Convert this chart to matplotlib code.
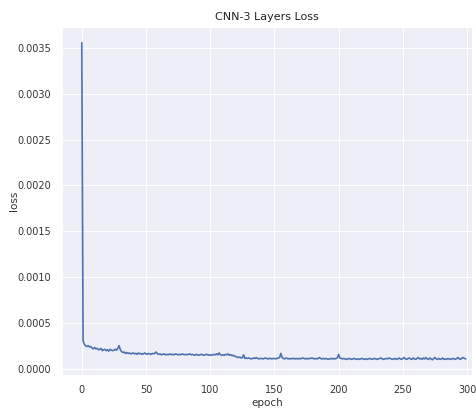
import matplotlib
matplotlib.use("Agg")
import matplotlib.pyplot as plt
import numpy as np
import seaborn as sns

# loss per epoch (units of 1e-5)
loss_e5 = [
    356, 30, 26.5, 25, 24, 25, 23.5, 24, 22.5, 21.5,
    23, 21.5, 22, 20.5, 21, 22, 19.5, 20.5, 21, 19.5,
    20.5, 19, 21, 20, 19.5, 20, 21, 20, 22, 25,
    20.5, 18.5, 17.5, 18, 16.5, 17.5, 16.5, 17, 16, 16.5,
    17, 16, 16.5, 15.5, 17, 16, 16.5, 15.5, 16, 17,
    16, 15.5, 16.5, 16, 15.5, 16.5, 16, 17, 18, 16,
    15.5, 16, 15, 15.5, 16, 15, 15.5, 15, 15.5, 16,
    15, 15.5, 15, 16, 15.5, 15, 15.5, 15, 16, 15.5,
    15, 15.5, 15, 15.5, 16, 15, 15.5, 15, 14.5, 15.5,
    15, 14.5, 15, 15.5, 15, 14.5, 15, 15.5, 15, 14.5,
    15, 14.5, 15, 15.5, 15, 16, 15, 17, 15, 14.5,
    15, 14.5, 15.5, 15, 16, 14.5, 15, 14, 14.5, 13.5,
    13, 12.5, 12, 12.5, 11.5, 12, 15, 11, 11.5, 11,
    11.5, 11, 10.5, 11, 11.5, 11, 12, 11, 10.5, 11,
    11, 10.5, 11, 11.5, 11, 10.5, 11, 11, 10.5, 11,
    11, 10.5, 11, 11.5, 12, 16.5, 12, 11, 10.5, 11.5,
    11, 10.5, 11, 10.5, 11, 11, 10.5, 11, 10.5, 11,
    10.5, 11, 11.5, 11, 10.5, 11, 10.5, 11, 11, 11.5,
    11, 10.5, 11, 10.5, 11, 12, 11, 10.5, 11, 10.5,
    11, 10.5, 10, 10.5, 11, 10.5, 11, 10.5, 11, 11.5,
    15.5, 11.5, 11, 10.5, 11, 10.5, 10, 10.5, 11, 10.5,
    10, 10.5, 11, 10.5, 10, 10.5, 10, 10.5, 11, 10.5,
    10, 10.5, 10, 10.5, 11, 10.5, 10, 10.5, 11, 10.5,
    10, 10.5, 11, 11.5, 10.5, 10, 10.5, 11, 10.5, 11.5,
    11, 10.5, 10, 10.5, 11, 10, 10.5, 11.5, 10.5, 10,
    11, 12, 10.5, 10, 11, 11.5, 10.5, 10, 11.5, 10.5,
    10, 11, 12, 10.5, 11, 10, 11.5, 10.5, 12, 10.5,
    10, 11.5, 10.5, 9.5, 11, 12, 10.5, 10, 11, 10,
    10.5, 11.5, 10, 10.5, 10, 11, 10.5, 10, 10.5, 11,
    10.5, 10, 11, 12, 10.5, 10, 11.5, 12, 11, 10.5,
]
loss = np.array(loss_e5) * 1e-5
epochs = np.arange(len(loss))


def plot():
    sns.set_style("darkgrid")
    plt.rcParams["font.family"] = ["DejaVu Sans"]

    fig = plt.figure(figsize=(4.76, 4.12), dpi=100)
    ax = fig.add_axes([0.130, 0.090, 0.862, 0.844])
    ax.set_facecolor("#EEEFF6")
    ax.plot(epochs, loss, color="#4C72B0", linewidth=1.2)

    ax.set_xlim(-15.5, 304)
    ax.set_ylim(-0.00007, 0.00373)
    ax.set_xticks([0, 50, 100, 150, 200, 250, 300])
    ax.set_yticks(np.arange(0, 0.0036, 0.0005))
    ax.yaxis.set_major_formatter(plt.FormatStrFormatter("%.4f"))
    ax.tick_params(labelsize=7, colors="#333333", pad=4)
    ax.grid(color="white", linewidth=0.8)

    ax.set_title("CNN-3 Layers Loss", fontsize=8, color="#222222", pad=5)
    ax.set_xlabel("epoch", fontsize=7.5, color="#333333", labelpad=2)
    ax.set_ylabel("loss", fontsize=7.5, color="#333333", labelpad=-1)

    fig.savefig("out.png", dpi=100)


if __name__ == "__main__":
    plot()
